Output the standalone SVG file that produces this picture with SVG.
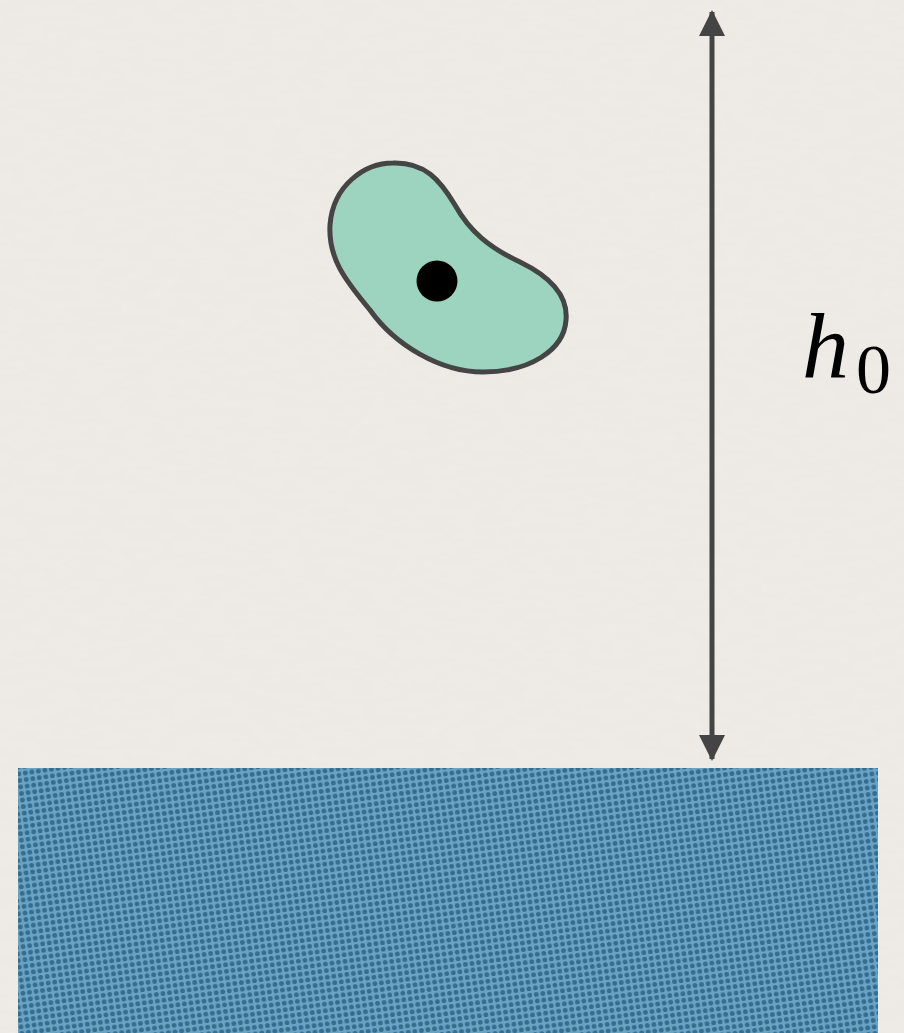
<svg xmlns="http://www.w3.org/2000/svg" width="904" height="1033" viewBox="0 0 904 1033">
  <defs>
    <filter id="paper" x="0" y="0" width="100%" height="100%">
      <feTurbulence type="fractalNoise" baseFrequency="0.04 0.12" numOctaves="3" seed="3" result="n"/>
      <feColorMatrix in="n" type="matrix" values="0 0 0 0 0.5  0 0 0 0 0.5  0 0 0 0 0.5  0 0 0 0.06 0"/>
    </filter>
    <pattern id="dots" width="6.6" height="6.6" patternUnits="userSpaceOnUse" patternTransform="rotate(-8)">
      <rect width="6.6" height="6.6" fill="#6ba3c3"/>
      <circle cx="3.3" cy="3.3" r="2.4" fill="#336d90"/>
    </pattern>
    <marker id="ah" viewBox="0 0 26 26" refX="24" refY="13" markerWidth="26" markerHeight="26" markerUnits="userSpaceOnUse" orient="auto-start-reverse">
      <path d="M0,0 L26,13 L0,26 Z" fill="#444"/>
    </marker>
    <style>
      .blob{fill:#9dd4bf;stroke:#454545;stroke-width:5;stroke-linejoin:round}
      .dim{stroke:#444;stroke-width:5;fill:none}
      .math{font-family:"Liberation Serif","Times New Roman",serif;fill:#000}
    </style>
  </defs>
  <rect width="904" height="1033" fill="#efece7"/>
  <rect width="904" height="1033" filter="url(#paper)"/>
  <g id="ground">
    <rect x="18" y="768" width="860" height="265" fill="url(#dots)"/>
  </g>
  <g id="body">
    <path class="blob" d="M393,163 C425,162 440,180 455,205 C470,232 490,248 520,262 C555,279 568,298 566,320 C564,350 530,372 483,372 C440,372 395,345 370,310 C345,280 328,258 330,225 C333,185 365,163 393,163 Z"/>
    <circle cx="437" cy="281" r="20.5" fill="#000"/>
  </g>
  <g id="connectors">
    <line class="dim" x1="712" y1="12" x2="712" y2="759" marker-start="url(#ah)" marker-end="url(#ah)"/>
  </g>
  <g id="label">
    <text class="math" x="802" y="378" font-size="94" font-style="italic">h</text>
    <text class="math" x="856" y="393" font-size="70">0</text>
  </g>
</svg>
